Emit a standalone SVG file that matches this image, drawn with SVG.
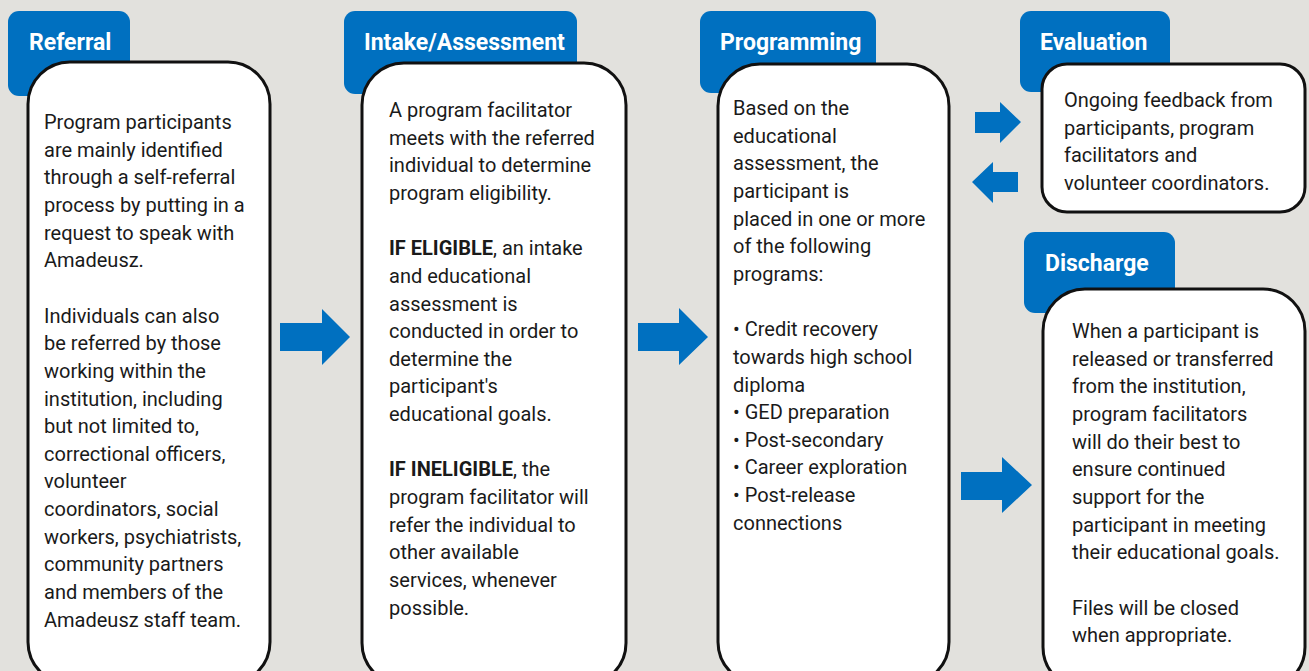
<svg xmlns="http://www.w3.org/2000/svg" width="1309" height="671" viewBox="0 0 1309 671">
<style>
.tab{fill:#0070c0;}
.box{fill:#ffffff;stroke:#111111;stroke-width:3;}
.h{font-family:Roboto,"Liberation Sans",sans-serif;font-weight:bold;font-size:23px;fill:#ffffff;}
.t{font-family:Roboto,"Liberation Sans",sans-serif;font-size:20px;fill:#1a1a1a;}
.b{font-weight:bold;}
.arr{fill:#0070c0;}
</style>
<rect x="0" y="0" width="1309" height="671" fill="#e2e1dd"/>

<g id="referral">
<rect class="tab" x="8" y="11" width="122" height="85" rx="11"/>
<text class="h" x="29" y="50">Referral</text>
<rect class="box" x="28" y="62" width="242" height="622" rx="42"/>
<text class="t" x="44" y="129">
<tspan x="44" dy="0">Program participants</tspan>
<tspan x="44" dy="27.65">are mainly identified</tspan>
<tspan x="44" dy="27.65">through a self-referral</tspan>
<tspan x="44" dy="27.65">process by putting in a</tspan>
<tspan x="44" dy="27.65">request to speak with</tspan>
<tspan x="44" dy="27.65">Amadeusz.</tspan>
<tspan x="44" dy="55.3">Individuals can also</tspan>
<tspan x="44" dy="27.65">be referred by those</tspan>
<tspan x="44" dy="27.65">working within the</tspan>
<tspan x="44" dy="27.65">institution, including</tspan>
<tspan x="44" dy="27.65">but not limited to,</tspan>
<tspan x="44" dy="27.65">correctional officers,</tspan>
<tspan x="44" dy="27.65">volunteer</tspan>
<tspan x="44" dy="27.65">coordinators, social</tspan>
<tspan x="44" dy="27.65">workers, psychiatrists,</tspan>
<tspan x="44" dy="27.65">community partners</tspan>
<tspan x="44" dy="27.65">and members of the</tspan>
<tspan x="44" dy="27.65">Amadeusz staff team.</tspan>
</text>
</g>

<g id="intake">
<rect class="tab" x="344" y="11" width="233" height="83" rx="11"/>
<text class="h" x="364" y="50">Intake/Assessment</text>
<rect class="box" x="362" y="63" width="264" height="622" rx="42"/>
<text class="t" x="389" y="117">
<tspan x="389" dy="0">A program facilitator</tspan>
<tspan x="389" dy="27.65">meets with the referred</tspan>
<tspan x="389" dy="27.65">individual to determine</tspan>
<tspan x="389" dy="27.65">program eligibility.</tspan>
<tspan x="389" dy="55.3"><tspan class="b">IF ELIGIBLE</tspan>, an intake</tspan>
<tspan x="389" dy="27.65">and educational</tspan>
<tspan x="389" dy="27.65">assessment is</tspan>
<tspan x="389" dy="27.65">conducted in order to</tspan>
<tspan x="389" dy="27.65">determine the</tspan>
<tspan x="389" dy="27.65">participant's</tspan>
<tspan x="389" dy="27.65">educational goals.</tspan>
<tspan x="389" dy="55.3"><tspan class="b">IF INELIGIBLE</tspan>, the</tspan>
<tspan x="389" dy="27.65">program facilitator will</tspan>
<tspan x="389" dy="27.65">refer the individual to</tspan>
<tspan x="389" dy="27.65">other available</tspan>
<tspan x="389" dy="27.65">services, whenever</tspan>
<tspan x="389" dy="27.65">possible.</tspan>
</text>
</g>

<g id="programming">
<rect class="tab" x="700" y="11" width="176" height="82" rx="11"/>
<text class="h" x="720" y="50">Programming</text>
<rect class="box" x="718" y="64" width="231" height="620" rx="42"/>
<text class="t" x="733" y="115">
<tspan x="733" dy="0">Based on the</tspan>
<tspan x="733" dy="27.65">educational</tspan>
<tspan x="733" dy="27.65">assessment, the</tspan>
<tspan x="733" dy="27.65">participant is</tspan>
<tspan x="733" dy="27.65">placed in one or more</tspan>
<tspan x="733" dy="27.65">of the following</tspan>
<tspan x="733" dy="27.65">programs:</tspan>
<tspan x="733" dy="55.3">• Credit recovery</tspan>
<tspan x="733" dy="27.65">towards high school</tspan>
<tspan x="733" dy="27.65">diploma</tspan>
<tspan x="733" dy="27.65">• GED preparation</tspan>
<tspan x="733" dy="27.65">• Post-secondary</tspan>
<tspan x="733" dy="27.65">• Career exploration</tspan>
<tspan x="733" dy="27.65">• Post-release</tspan>
<tspan x="733" dy="27.65">connections</tspan>
</text>
</g>

<g id="evaluation">
<rect class="tab" x="1020" y="11" width="150" height="81" rx="11"/>
<text class="h" x="1040" y="50">Evaluation</text>
<rect class="box" x="1042" y="64" width="263" height="148" rx="25"/>
<text class="t" x="1064" y="107">
<tspan x="1064" dy="0">Ongoing feedback from</tspan>
<tspan x="1064" dy="27.65">participants, program</tspan>
<tspan x="1064" dy="27.65">facilitators and</tspan>
<tspan x="1064" dy="27.65">volunteer coordinators.</tspan>
</text>
</g>

<g id="discharge">
<rect class="tab" x="1024" y="232" width="151" height="81" rx="11"/>
<text class="h" x="1045" y="271">Discharge</text>
<rect class="box" x="1043" y="289" width="262" height="400" rx="42"/>
<text class="t" x="1072" y="338">
<tspan x="1072" dy="0">When a participant is</tspan>
<tspan x="1072" dy="27.65">released or transferred</tspan>
<tspan x="1072" dy="27.65">from the institution,</tspan>
<tspan x="1072" dy="27.65">program facilitators</tspan>
<tspan x="1072" dy="27.65">will do their best to</tspan>
<tspan x="1072" dy="27.65">ensure continued</tspan>
<tspan x="1072" dy="27.65">support for the</tspan>
<tspan x="1072" dy="27.65">participant in meeting</tspan>
<tspan x="1072" dy="27.65">their educational goals.</tspan>
<tspan x="1072" dy="55.3">Files will be closed</tspan>
<tspan x="1072" dy="27.65">when appropriate.</tspan>
</text>
</g>

<g id="connectors">
<polygon class="arr" points="280,323 322,323 322,309 350,337 322,365 322,351 280,351"/>
<polygon class="arr" points="638,323 679,323 679,308 708,337 679,365 679,351 638,351"/>
<polygon class="arr" points="961,472 1002,472 1002,457 1032,485 1002,513 1002,500 961,500"/>
<polygon class="arr" points="975,112 1000,112 1000,102 1021,122 1000,143 1000,133 975,133"/>
<polygon class="arr" points="1018,172 993,172 993,162 972,182 993,203 993,192 1018,192"/>
</g>
</svg>
